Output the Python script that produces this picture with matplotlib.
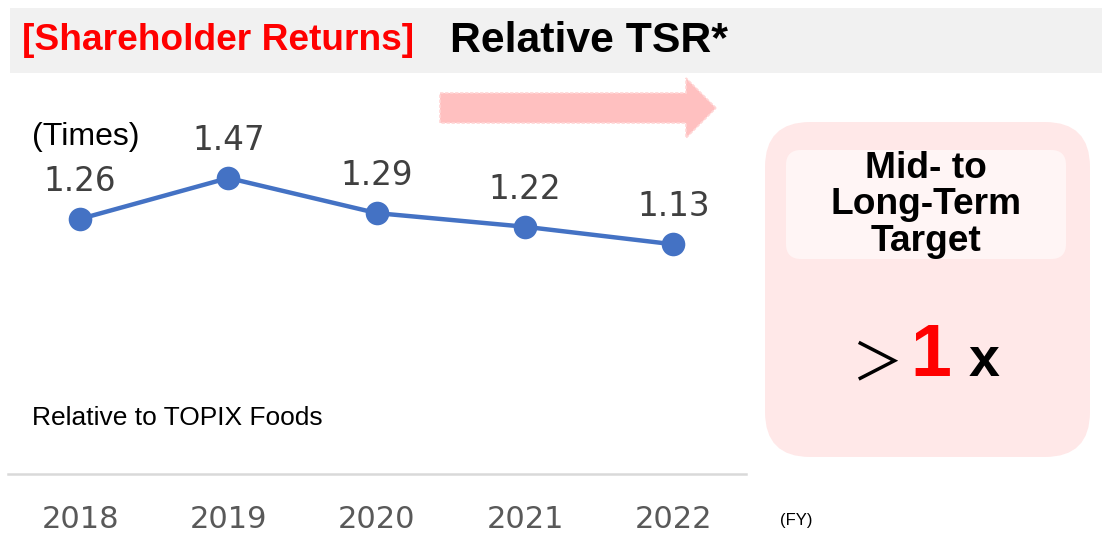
import matplotlib.pyplot as plt
from matplotlib.patches import Rectangle, FancyBboxPatch, FancyArrow

# Relative TSR vs TOPIX Foods
years = ["2018", "2019", "2020", "2021", "2022"]
tsr = [1.26, 1.47, 1.29, 1.22, 1.13]

W, H = 1102, 533
fig = plt.figure(figsize=(W / 100, H / 100), dpi=100)

# background layer in pixel coordinates
bg = fig.add_axes([0, 0, 1, 1])
bg.set_xlim(0, W)
bg.set_ylim(H, 0)
bg.axis("off")

bg.add_patch(Rectangle((10, 8), W - 10, 65, color="#f1f1f1", lw=0))
bg.text(22, 41, "[Shareholder Returns]", color="#ff0000", fontsize=26.7,
        fontweight="bold", family="Liberation Sans", va="center", ha="left")
bg.text(450, 41, "Relative TSR*", color="black", fontsize=30.8,
        fontweight="bold", family="Liberation Sans", va="center", ha="left")

bg.add_patch(FancyArrow(440, 108, 276, 0, width=30, head_width=60,
                        head_length=30, length_includes_head=True,
                        facecolor="#ffc0c0", edgecolor="#ffd6d6", lw=1.2,
                        linestyle=(0, (2, 1))))

bg.add_patch(FancyBboxPatch((765 + 45, 122 + 45), 325 - 90, 335 - 90,
                            boxstyle="round,pad=45", facecolor="#ffe8e8",
                            edgecolor="none"))
bg.add_patch(FancyBboxPatch((786 + 15, 150 + 15), 280 - 30, 109 - 30,
                            boxstyle="round,pad=15", facecolor="#fff5f5",
                            edgecolor="none"))
bg.text(926, 205, "Mid- to\nLong-Term\nTarget", fontsize=26.7, fontweight="bold",
        family="Liberation Sans", ha="center", va="center",
        multialignment="center", linespacing=1.05)

bg.text(877, 365, "＞", fontsize=37, family="Noto Sans CJK JP",
        ha="center", va="center")
bg.text(931, 356, "1", fontsize=53, fontweight="bold", color="#ff0000",
        family="Liberation Sans", ha="center", va="center")
bg.text(984, 362, "x", fontsize=40, fontweight="bold",
        family="Liberation Sans", ha="center", va="center")

bg.text(32, 137, "(Times)", fontsize=23, family="Liberation Sans",
        ha="left", va="center")
bg.text(32, 418, "Relative to TOPIX Foods", fontsize=19,
        family="Liberation Sans", ha="left", va="center")
bg.text(780, 521, "(FY)", fontsize=12, family="Liberation Sans",
        ha="left", va="center")

# line chart
ax = fig.add_axes([8 / W, (H - 474) / H, (746 - 8) / W, (474 - 100) / H])
ax.patch.set_alpha(0)
x = list(range(len(years)))
ax.plot(x, tsr, color="#4472c4", lw=3.2, marker="o", markersize=17,
        markeredgewidth=0)
for xi, v in zip(x, tsr):
    ax.annotate(f"{v:.2f}", (xi, v), xytext=(0, 27), textcoords="offset points",
                ha="center", va="center", fontsize=23.5, color="#404040")

ax.set_xlim(-0.486, 4.49)
ax.set_ylim(-0.048, 1.87)
ax.set_xticks(x)
ax.set_xticklabels(years, fontsize=22, color="#595959")
ax.tick_params(axis="x", length=0, pad=22)
ax.set_yticks([])
for side in ["top", "right", "left"]:
    ax.spines[side].set_visible(False)
ax.spines["bottom"].set_color("#d9d9d9")
ax.spines["bottom"].set_linewidth(1.8)

fig.savefig("out.png", dpi=100)
